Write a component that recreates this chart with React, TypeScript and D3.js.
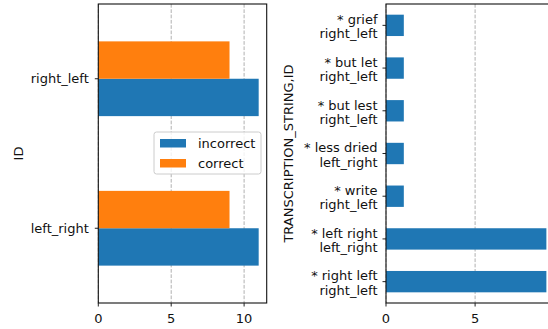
import React from "react";
import * as d3 from "d3";

const idCategories = ["left_right", "right_left"];
const incorrectCounts = [11, 11];
const correctCounts = [9, 9];
const seriesNames = ["incorrect", "correct"];
const seriesColors = ["#1f77b4", "#ff7f0e"];

const transcriptionLabels = [
  ["* right left", "right_left"],
  ["* left right", "left_right"],
  ["* write", "right_left"],
  ["* less dried", "left_right"],
  ["* but lest", "right_left"],
  ["* but let", "right_left"],
  ["* grief", "right_left"],
];
const transcriptionCounts = [9, 9, 1, 1, 1, 1, 1];

const leftTicks = [0, 5, 10];
const rightTicks = [0, 5];

const FONT = "DejaVu Sans, sans-serif";
const FS = 13;

export default function App() {
  const W = 548, H = 329;
  const top = 4, bottom = 303;

  // Left axes
  const lx0 = 98.3, lx1 = 266.7;
  const xL = d3.scaleLinear().domain([0, 11.55]).range([lx0, lx1]);
  const yL = d3.scaleLinear().domain([-0.5, 1.5]).range([bottom, top]);

  // Right axes
  const rx0 = 386, rx1 = 554.4;
  const xR = d3.scaleLinear().domain([0, 9.45]).range([rx0, rx1]);
  const yR = d3.scaleLinear().domain([-0.5, 6.5]).range([bottom, top]);

  const grid = (x: number, key: string) => (
    <line key={key} x1={x} x2={x} y1={top} y2={bottom} stroke="#b0b0b0" strokeWidth={1} strokeDasharray="3.7,1.6" />
  );

  const bh = 0.25;
  return (
    <svg width={W} height={H} style={{ position: "absolute", left: 0, top: 0 }} fontFamily={FONT} fontSize={FS}>
      <rect x={0} y={0} width={W} height={H} fill="white" />
      {/* LEFT CHART */}
      {leftTicks.map((t) => grid(xL(t), "lg" + t))}
      {idCategories.map((c, i) => (
        <g key={c}>
          <rect x={xL(0)} y={yL(i)} width={xL(incorrectCounts[i]) - xL(0)} height={yL(i - bh) - yL(i)} fill={seriesColors[0]} />
          <rect x={xL(0)} y={yL(i + bh)} width={xL(correctCounts[i]) - xL(0)} height={yL(i) - yL(i + bh)} fill={seriesColors[1]} />
          <line x1={lx0 - 3.5} x2={lx0} y1={yL(i)} y2={yL(i)} stroke="#222" strokeWidth={1} />
          <text x={lx0 - 9.5} y={yL(i)} dy="0.35em" textAnchor="end" fill="#111">{c}</text>
        </g>
      ))}
      <rect x={lx0} y={top} width={lx1 - lx0} height={bottom - top} fill="none" stroke="#111" strokeWidth={1.1} />
      {leftTicks.map((t) => (
        <g key={"lt" + t}>
          <line x1={xL(t)} x2={xL(t)} y1={bottom} y2={bottom + 3.5} stroke="#222" strokeWidth={1} />
          <text x={xL(t)} y={322.7} textAnchor="middle" fill="#111">{t}</text>
        </g>
      ))}
      <text transform={`translate(22.7,${(top + bottom) / 2}) rotate(-90)`} textAnchor="middle" fill="#111">ID</text>
      {/* Legend */}
      <g>
        <rect x={154} y={132} width={107} height={42} rx={2.5} fill="white" fillOpacity={0.8} stroke="#cccccc" strokeWidth={1} />
        {seriesNames.map((s, i) => (
          <g key={s}>
            <rect x={160} y={139 + i * 20} width={26} height={8.5} fill={seriesColors[i]} />
            <text x={198} y={143.3 + i * 20} dy="0.35em" fill="#111">{s}</text>
          </g>
        ))}
      </g>

      {/* RIGHT CHART */}
      {rightTicks.map((t) => grid(xR(t), "rg" + t))}
      {transcriptionCounts.map((v, i) => (
        <g key={"rb" + i}>
          <rect x={xR(0)} y={yR(i + bh)} width={xR(v) - xR(0)} height={yR(i - bh) - yR(i + bh)} fill={seriesColors[0]} />
          <line x1={rx0 - 3.5} x2={rx0} y1={yR(i)} y2={yR(i)} stroke="#222" strokeWidth={1} />
          <text textAnchor="end" fill="#111">
            <tspan x={rx0 - 8.5} y={yR(i) - 1.2}>{transcriptionLabels[i][0]}</tspan>
            <tspan x={rx0 - 8.5} y={yR(i) + 13}>{transcriptionLabels[i][1]}</tspan>
          </text>
        </g>
      ))}
      <rect x={rx0} y={top} width={rx1 - rx0} height={bottom - top} fill="none" stroke="#111" strokeWidth={1.1} />
      {rightTicks.map((t) => (
        <g key={"rt" + t}>
          <line x1={xR(t)} x2={xR(t)} y1={bottom} y2={bottom + 3.5} stroke="#222" strokeWidth={1} />
          <text x={xR(t)} y={322.7} textAnchor="middle" fill="#111">{t}</text>
        </g>
      ))}
      <text transform={`translate(292.5,${(top + bottom) / 2}) rotate(-90)`} textAnchor="middle" fill="#111">TRANSCRIPTION_STRING,ID</text>
    </svg>
  );
}
